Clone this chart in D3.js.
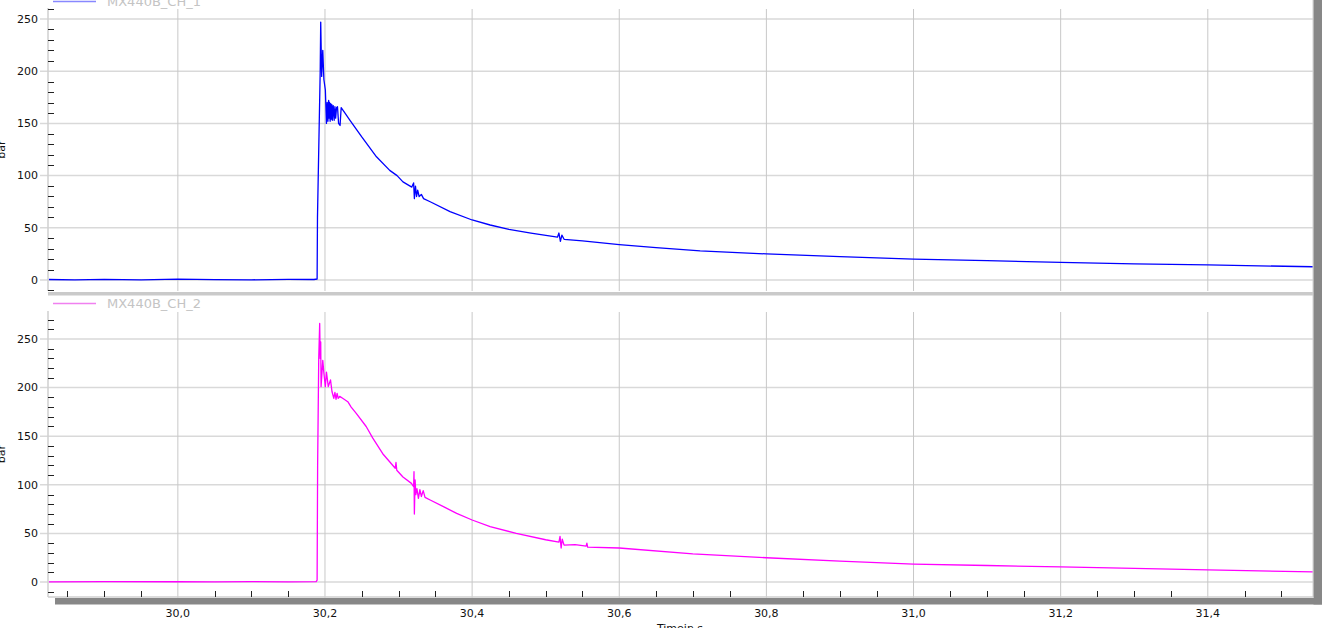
<!DOCTYPE html>
<html><head><meta charset="utf-8">
<script src="https://cdn.jsdelivr.net/npm/d3@7"></script>
<style>html,body{margin:0;padding:0;background:#fff;overflow:hidden}svg{display:block}</style>
</head><body><svg id="c" width="1343" height="628"></svg>
<script>
// ---- data ----
const seriesNames = ["MX440B_CH_1", "MX440B_CH_2"];
const xTickValues = [30.0, 30.2, 30.4, 30.6, 30.8, 31.0, 31.2, 31.4];
const xTickLabels = ["30,0", "30,2", "30,4", "30,6", "30,8", "31,0", "31,2", "31,4"];
const yTickValues = [0, 50, 100, 150, 200, 250];
const yTickLabels = ["0", "50", "100", "150", "200", "250"];
const xTitle = "Timein s";
const yTitle = "bar";

const ch1Time = [29.824, 29.86, 29.9, 29.95, 30.0, 30.05, 30.1, 30.15, 30.185, 30.1893, 30.1898, 30.1935, 30.1942,
  30.1955, 30.197, 30.1985, 30.2005, 30.202, 30.203, 30.204, 30.205, 30.2055, 30.2062, 30.207, 30.2078, 30.2085, 30.2093, 30.210,
  30.2112, 30.2125, 30.2135, 30.2145, 30.2157, 30.217, 30.2185, 30.2205, 30.222,
  30.227, 30.234, 30.25, 30.27, 30.288, 30.298, 30.306, 30.318, 30.3205, 30.3215, 30.323, 30.3245, 30.326, 30.328, 30.331, 30.334,
  30.343, 30.37, 30.40, 30.4245, 30.45, 30.48, 30.516, 30.518, 30.520, 30.522, 30.525, 30.55, 30.6, 30.65, 30.71, 30.8, 30.9,
  31.0, 31.1, 31.2, 31.3, 31.4, 31.543];
const ch1Value = [0.5, 0.2, 0.6, 0.1, 0.8, 0.3, 0.2, 0.6, 0.5, 1, 60, 200, 247,
  195, 220, 192, 182, 150, 170, 152, 172, 155, 170, 152, 169, 154, 168, 153,
  167, 153, 166, 155, 165, 166, 150, 148, 165,
  160, 153, 137, 118, 105, 100, 94, 89, 93, 78, 90, 80, 86, 80, 82, 78,
  75, 65.5, 57.5, 52.7, 48.5, 45, 41, 45, 37, 43, 39, 37.5, 34, 31, 28, 25, 22.5,
  20, 18.5, 17, 15.5, 14.5, 12.7];

const ch2Time = [29.824, 29.9, 30.0, 30.05, 30.1, 30.15, 30.188, 30.1893, 30.190, 30.1915, 30.1928, 30.1935, 30.1942,
  30.1947, 30.197, 30.1985, 30.2005, 30.202, 30.2045, 30.2075, 30.2095, 30.212, 30.2135, 30.215, 30.2165, 30.218, 30.22, 30.224, 30.231, 30.2356,
  30.2425, 30.256, 30.265, 30.2785, 30.2876, 30.2955, 30.2965, 30.2976, 30.306, 30.3175, 30.3205, 30.321, 30.3215, 30.3225,
  30.3235, 30.325, 30.327, 30.329, 30.331, 30.3335, 30.336, 30.343, 30.361, 30.379, 30.40, 30.4245, 30.46, 30.5, 30.518,
  30.5195, 30.521, 30.5225, 30.525, 30.54, 30.555, 30.556, 30.557, 30.6, 30.7, 30.8, 30.9, 31.0, 31.1, 31.2, 31.3, 31.4, 31.543];
const ch2Value = [0.2, 0.5, 0.3, 0.1, 0.4, 0.2, 0.5, 2, 120, 230, 266, 230, 247,
  201, 228, 215, 201, 216, 201, 208, 196, 189, 195, 188, 194, 189, 191, 189, 185.5, 180,
  173.5, 160, 148, 132, 124, 117, 123, 115, 108, 101.5, 98, 113.5, 70, 105,
  90, 96, 86, 95, 88, 94, 87, 84.4, 77.5, 70.7, 63.8, 57, 50, 43.5, 41,
  47, 35, 44, 38, 38.5, 37, 40, 36, 35, 29, 25, 21.5, 18.5, 17, 15.5, 14, 12.5, 10.5];

// ---- layout ----
const plotL = 48, plotR = 1313;
const svg = d3.select("#c");
const font = "'DejaVu Sans', Verdana, sans-serif";

const x = d3.scaleLinear().domain([29.8235, 31.543]).range([plotL, plotR]);
const panels = [
  { name: seriesNames[0], t: ch1Time, v: ch1Value, color: "#0000ff", legend: "#8888ff",
    y: d3.scaleLinear().domain([-10.5, 260.5]).range([291, 8]), top: 8, bottom: 291, legendY: 1.5 },
  { name: seriesNames[1], t: ch2Time, v: ch2Value, color: "#ff00ff", legend: "#f080f0",
    y: d3.scaleLinear().domain([-15.4, 278.8]).range([597, 311]), top: 311, bottom: 597, legendY: 303.5 }
];

const minorX = d3.range(29.85, 31.55, 0.05).filter(v => xTickValues.every(m => Math.abs(m - v) > 1e-6));

panels.forEach((p, i) => {
  const g = svg.append("g");
  const minorY = d3.range(-10, 281, 10).filter(v => v % 50 !== 0 && p.y(v) >= p.top - 1 && p.y(v) <= p.bottom + 1);
  g.selectAll(".hg").data(yTickValues).join("line")
    .attr("x1", plotL - 8).attr("x2", plotR)
    .attr("y1", d => p.y(d)).attr("y2", d => p.y(d))
    .attr("stroke", "#d9d9d9").attr("stroke-width", 1.5);
  g.selectAll(".vg").data(xTickValues).join("line")
    .attr("x1", d => x(d)).attr("x2", d => x(d))
    .attr("y1", p.top + 1).attr("y2", i === 1 ? p.bottom + 1 : p.bottom)
    .attr("stroke", "#c8c8c8").attr("stroke-width", 1);
  g.append("line").attr("x1", plotL).attr("x2", plotL).attr("y1", p.top).attr("y2", p.bottom)
    .attr("stroke", "#cfcfcf").attr("stroke-width", 1.5);
  g.selectAll(".my").data(minorY).join("line")
    .attr("x1", plotL).attr("x2", plotL + 6)
    .attr("y1", d => Math.round(p.y(d)) + 0.5).attr("y2", d => Math.round(p.y(d)) + 0.5)
    .attr("stroke", "#222").attr("stroke-width", 1);
  g.selectAll(".yl").data(yTickValues).join("text")
    .attr("x", 38).attr("y", d => p.y(d)).attr("dy", "0.35em")
    .attr("text-anchor", "end").attr("font-family", font).attr("font-size", 11).attr("fill", "#111")
    .text((d, k) => yTickLabels[k]);
  g.append("text").attr("transform", `translate(5,${(p.top + p.bottom) / 2}) rotate(-90)`)
    .attr("text-anchor", "middle").attr("font-family", font).attr("font-size", 11).attr("fill", "#111")
    .text(yTitle);
  const cid = "clip" + i;
  svg.append("clipPath").attr("id", cid).append("rect")
    .attr("x", plotL + 1).attr("y", p.top).attr("width", plotR - plotL - 1).attr("height", p.bottom - p.top);
  const data = p.t.map((t, k) => [t, p.v[k]]);
  g.append("path").datum(data).attr("clip-path", `url(#${cid})`)
    .attr("d", d3.line().x(d => x(d[0])).y(d => p.y(d[1])))
    .attr("fill", "none").attr("stroke", p.color).attr("stroke-width", 1.3).attr("stroke-linejoin", "round");
  g.append("line").attr("x1", 53).attr("x2", 96).attr("y1", p.legendY).attr("y2", p.legendY)
    .attr("stroke", p.legend).attr("stroke-width", 1.5);
  g.append("text").attr("x", 107).attr("y", p.legendY).attr("dy", "0.35em")
    .attr("font-family", font).attr("font-size", 13).attr("fill", "#c4c4c4").text(p.name);
});

svg.append("rect").attr("x", plotL).attr("y", 292).attr("width", plotR - plotL).attr("height", 3.5).attr("fill", "#cacaca");
svg.append("line").attr("x1", plotR).attr("x2", plotR).attr("y1", 0).attr("y2", 597).attr("stroke", "#d0d0d0");
svg.append("line").attr("x1", plotL).attr("x2", plotR).attr("y1", 597).attr("y2", 597).attr("stroke", "#cfcfcf").attr("stroke-width", 1.5);
svg.selectAll(".mx").data(minorX).join("line")
  .attr("x1", d => Math.round(x(d)) + 0.5).attr("x2", d => Math.round(x(d)) + 0.5)
  .attr("y1", 591).attr("y2", 597).attr("stroke", "#222");
svg.append("rect").attr("x", 55).attr("y", 598).attr("width", 1322 - 55).attr("height", 6.5).attr("fill", "#878787");
svg.append("rect").attr("x", 1313.5).attr("y", 0).attr("width", 8.5).attr("height", 604.5).attr("fill", "#878787");
svg.selectAll(".xl").data(xTickValues).join("text")
  .attr("x", d => x(d)).attr("y", 617).attr("text-anchor", "middle")
  .attr("font-family", font).attr("font-size", 11).attr("fill", "#111")
  .text((d, k) => xTickLabels[k]);
svg.append("text").attr("x", 680).attr("y", 632).attr("text-anchor", "middle")
  .attr("font-family", font).attr("font-size", 11).attr("fill", "#111").text(xTitle);
</script></body></html>
